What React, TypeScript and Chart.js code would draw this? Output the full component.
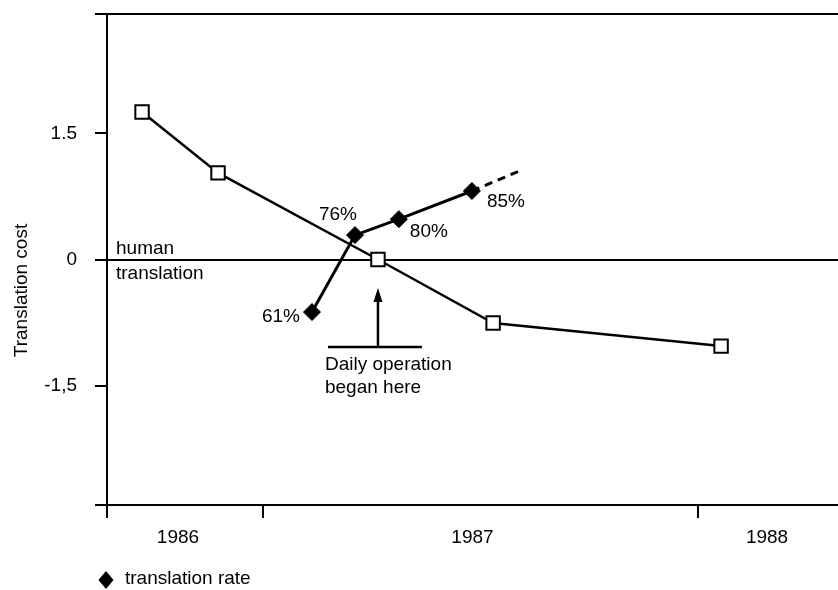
import React, { useEffect, useRef } from 'react';
import { Chart, registerables } from 'chart.js';

Chart.register(...registerables);

// ---- data ----
const COST_X = [1985.878, 1986.136, 1986.679, 1987.07, 1987.844];
const COST_Y = [1.755, 1.03, 0, -0.755, -1.03];
const RATE_X = [1986.455, 1986.601, 1986.75, 1986.998];
const RATE_Y = [-0.625, 0.29, 0.48, 0.815];
const RATE_LABELS = ['61%', '76%', '80%', '85%'];
const TREND_X = [1986.998, 1987.158];
const TREND_Y = [0.815, 1.05];

const X_MIN = 1985.759;
const X_MAX = 1988.241;
const Y_MIN = -2.92;
const Y_MAX = 2.92;
const Y_TICKS = [-2.92, -1.5, 0, 1.5, 2.92];
const Y_TICK_LABELS = ['', '-1,5', '0', '1.5', ''];
const X_TICKS = [1985.759, 1986, 1986.289, 1987, 1987.766, 1988];
const X_TICK_LABELS = ['', '1986', '', '1987', '', '1988'];
const X_TICK_MARKS = [true, false, true, false, true, false];

const Y_TITLE = 'Translation cost';
const COST_LABEL = 'translation cost';
const LEGEND_LABEL = 'translation rate';
const BASELINE_LABEL = ['human', 'translation'];
const EVENT_LABEL = ['Daily operation', 'began here'];
const EVENT_X = 1986.679;
const EVENT_Y_TIP = -0.34;
const EVENT_Y_BASE = -1.04;

// ---- styles ----
const FONT_FAMILY = "'Liberation Sans', Arial, Helvetica, sans-serif";
const FONT_SIZE = 19;
const FONT = `${FONT_SIZE}px ${FONT_FAMILY}`;
const INK = '#000000';
const CLEAR = 'rgba(0,0,0,0)';
const RATE_LABEL_PLACEMENT = [
  { dx: -12, dy: 5, align: 'right' },
  { dx: -17, dy: -20, align: 'center' },
  { dx: 11, dy: 13, align: 'left' },
  { dx: 15, dy: 11, align: 'left' },
];

const annotatePlugin = {
  id: 'annotate',
  afterDatasetsDraw(chart: any) {
    const { ctx, chartArea } = chart;
    const x = chart.scales.x;
    const y = chart.scales.y;
    ctx.save();
    ctx.fillStyle = INK;
    ctx.strokeStyle = INK;
    ctx.font = FONT;
    ctx.textBaseline = 'middle';

    // rate labels
    const meta = chart.getDatasetMeta(1);
    meta.data.forEach((pt: any, i: number) => {
      const p = RATE_LABEL_PLACEMENT[i];
      ctx.textAlign = p.align;
      ctx.fillText(RATE_LABELS[i], pt.x + p.dx, pt.y + p.dy);
    });

    // human translation baseline label
    const y0 = y.getPixelForValue(0);
    ctx.textAlign = 'left';
    ctx.fillText(BASELINE_LABEL[0], chartArea.left + 9, y0 - 11);
    ctx.fillText(BASELINE_LABEL[1], chartArea.left + 9, y0 + 14);

    // event arrow
    const ax = x.getPixelForValue(EVENT_X);
    const tipY = y.getPixelForValue(EVENT_Y_TIP);
    const baseY = y.getPixelForValue(EVENT_Y_BASE);
    ctx.lineWidth = 2.5;
    ctx.beginPath();
    ctx.moveTo(ax, baseY);
    ctx.lineTo(ax, tipY + 10);
    ctx.stroke();
    ctx.beginPath();
    ctx.moveTo(ax, tipY);
    ctx.lineTo(ax - 4.5, tipY + 14);
    ctx.lineTo(ax + 4.5, tipY + 14);
    ctx.closePath();
    ctx.fill();
    ctx.beginPath();
    ctx.moveTo(ax - 50, baseY);
    ctx.lineTo(ax + 44, baseY);
    ctx.stroke();
    ctx.textAlign = 'left';
    ctx.fillText(EVENT_LABEL[0], ax - 53, baseY + 18);
    ctx.fillText(EVENT_LABEL[1], ax - 53, baseY + 41);
    ctx.restore();
  },
  afterDraw(chart: any) {
    const { ctx, chartArea } = chart;
    ctx.save();
    ctx.fillStyle = INK;
    ctx.font = FONT;
    ctx.textBaseline = 'middle';
    // y axis title
    ctx.translate(22, (chartArea.top + chartArea.bottom) / 2 + 31);
    ctx.rotate(-Math.PI / 2);
    ctx.textAlign = 'center';
    ctx.fillText(Y_TITLE, 0, 0);
    ctx.restore();

    // legend
    ctx.save();
    ctx.fillStyle = INK;
    ctx.font = FONT;
    ctx.textBaseline = 'middle';
    const lx = chartArea.left - 1;
    const ly = chart.height - 10;
    ctx.beginPath();
    ctx.moveTo(lx, ly - 9);
    ctx.lineTo(lx + 7.5, ly);
    ctx.lineTo(lx, ly + 9);
    ctx.lineTo(lx - 7.5, ly);
    ctx.closePath();
    ctx.fill();
    ctx.textAlign = 'left';
    ctx.fillText(chart.data.datasets[1].label, lx + 19, ly - 1);
    ctx.restore();
  },
};

export default function App() {
  const canvasRef = useRef<HTMLCanvasElement | null>(null);

  useEffect(() => {
    if (!canvasRef.current) return;
    const font = { family: FONT_FAMILY, size: FONT_SIZE };
    const chart = new Chart(canvasRef.current, {
      type: 'line',
      data: {
        datasets: [
          {
            label: COST_LABEL,
            data: COST_X.map((v, i) => ({ x: v, y: COST_Y[i] })),
            borderColor: INK,
            borderWidth: 2.5,
            pointStyle: 'rect',
            pointRadius: 9.5,
            pointBackgroundColor: '#ffffff',
            pointBorderColor: INK,
            pointBorderWidth: 2,
            tension: 0,
            order: 2,
          },
          {
            label: LEGEND_LABEL,
            data: RATE_X.map((v, i) => ({ x: v, y: RATE_Y[i] })),
            borderColor: INK,
            borderWidth: 3,
            pointStyle: 'rectRot',
            pointRadius: 8.5,
            pointBackgroundColor: INK,
            pointBorderColor: INK,
            pointBorderWidth: 1,
            tension: 0,
            order: 0,
          },
          {
            label: 'trend',
            data: TREND_X.map((v, i) => ({ x: v, y: TREND_Y[i] })),
            borderColor: INK,
            borderWidth: 3,
            borderDash: [8, 6],
            pointRadius: 0,
            tension: 0,
            order: 1,
          },
        ],
      },
      options: {
        responsive: false,
        animation: false,
        devicePixelRatio: 1,
        layout: { autoPadding: false, padding: { top: 14, bottom: 42, left: 0, right: 0 } },
        plugins: {
          legend: { display: false },
          tooltip: { enabled: false },
        },
        scales: {
          x: {
            type: 'linear',
            min: X_MIN,
            max: X_MAX,
            afterBuildTicks: (s: any) => {
              s.ticks = X_TICKS.map((v) => ({ value: v }));
            },
            afterFit: (s: any) => {
              s.height = 43;
              s.paddingLeft = 0;
              s.paddingRight = 0;
            },
            ticks: {
              autoSkip: false,
              maxRotation: 0,
              minRotation: 0,
              padding: 8,
              color: INK,
              font,
              callback: (_v: any, i: number) => X_TICK_LABELS[i],
            },
            grid: {
              drawOnChartArea: false,
              drawTicks: true,
              tickLength: 13,
              tickWidth: 2,
              lineWidth: 2,
              color: CLEAR,
              tickColor: (c: any) => (X_TICK_MARKS[c.index] ? INK : CLEAR),
            },
            border: { display: true, color: INK, width: 2 },
          },
          y: {
            type: 'linear',
            min: Y_MIN,
            max: Y_MAX,
            afterBuildTicks: (s: any) => {
              s.ticks = Y_TICKS.map((v) => ({ value: v }));
            },
            afterFit: (s: any) => {
              s.width = 107;
              s.paddingTop = 0;
              s.paddingBottom = 0;
            },
            ticks: {
              autoSkip: false,
              padding: 18,
              color: INK,
              font,
              callback: (_v: any, i: number) => Y_TICK_LABELS[i],
            },
            grid: {
              drawTicks: true,
              tickLength: 12,
              tickWidth: 2,
              lineWidth: 2,
              tickColor: INK,
              color: (c: any) =>
                c.tick && (c.tick.value === 0 || c.tick.value === Y_MAX || c.tick.value === Y_MIN)
                  ? INK
                  : CLEAR,
            },
            border: { display: true, color: INK, width: 2 },
          },
        },
      },
      plugins: [annotatePlugin],
    } as any);
    return () => chart.destroy();
  }, []);

  return (
    <div style={{ position: 'absolute', left: 0, top: 0, width: 838, height: 590, background: '#fff' }}>
      <canvas ref={canvasRef} width={838} height={590} />
    </div>
  );
}
